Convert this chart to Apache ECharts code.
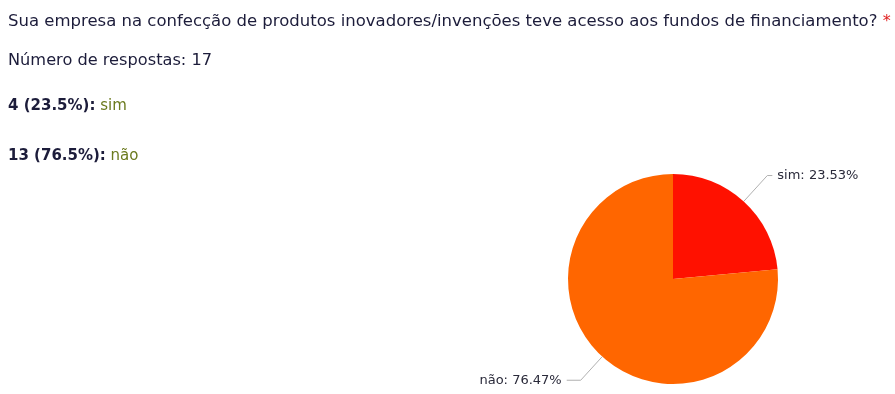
<!DOCTYPE html>
<html><head><meta charset="utf-8">
<script src="https://cdn.jsdelivr.net/npm/echarts@6/dist/echarts.min.js"></script>
<style>html,body{margin:0;padding:0;background:#fff}#c{width:895px;height:394px}</style>
</head><body><div id="c"></div>
<script>
const question = 'Sua empresa na confecção de produtos inovadores/invenções teve acesso aos fundos de financiamento?';
const totalLabel = 'Número de respostas: 17';
const categories = ['sim', 'não'];
const counts = [4, 13];
const percents = ['23.5%', '76.5%'];
const colors = ['#ff1100', '#ff6600'];

const chart = echarts.init(document.getElementById('c'));
const font = 'DejaVu Sans';
const dark = '#1c1c3a';
const ansColor = '#6b7a1e';
const graphics = [
  {type:'text', left:8, top:13, style:{text:'{q|'+question+'} {s|*}', fontFamily:font, fontSize:16.5, rich:{q:{fontFamily:font,fontSize:16.5,fill:dark}, s:{fontFamily:font,fontSize:16,fill:'#e02020'}}}},
  {type:'text', left:8, top:53, style:{text:totalLabel, fill:dark, fontFamily:font, fontSize:16.2}}
];
const lineLens = [[35,5],[32,14]];
categories.forEach((c,i)=>{
  graphics.push({type:'text', left:8, top:99+i*50, style:{text:'{a|'+counts[i]+' ('+percents[i]+'):} {b|'+c+'}', fontFamily:font, fontSize:15, rich:{a:{fontFamily:font,fontSize:15,fontWeight:'bold',fill:dark}, b:{fontFamily:font,fontSize:15,fill:ansColor}}}});
});
chart.setOption({
  animation:false,
  graphic: graphics,
  series:[{
    type:'pie',
    center:[673,279],
    radius:105,
    startAngle:90,
    clockwise:true,
    data: categories.map((c,i)=>({name:c, value:counts[i], itemStyle:{color:colors[i]}, labelLine:{length:lineLens[i][0], length2:lineLens[i][1]}})),
    label:{formatter:'{b}: {d}%', fontFamily:font, fontSize:13, color:'#2a2a3a'},
    labelLine:{lineStyle:{color:'#b0b0b0', width:1}},
    emphasis:{disabled:true}
  }]
});
</script></body></html>
